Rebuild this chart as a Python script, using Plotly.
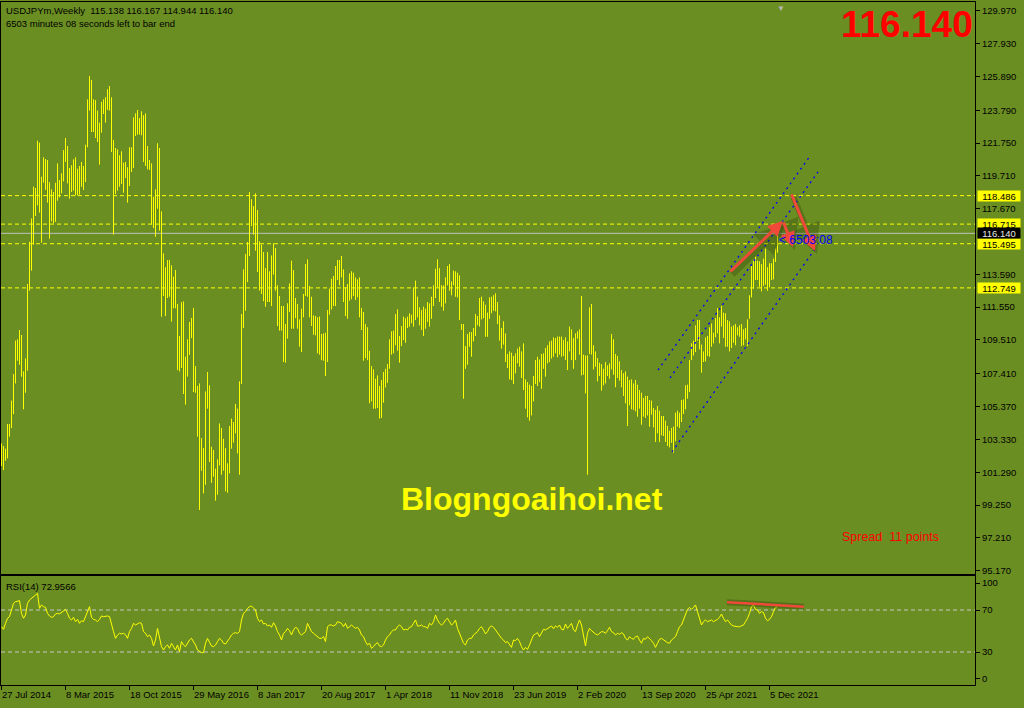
import plotly.graph_objects as go

# ---------------- data ----------------
BAR_HIGH = [
    103.08, 102.92, 102.75, 104.28, 104.28, 105.74, 107.39, 109.47, 109.55, 110.13,
    109.82, 107.56, 108.37, 112.99, 115.62, 117.07, 119.04, 118.96, 121.90, 121.78,
    119.66, 120.87, 120.76, 120.70, 119.33, 118.88, 118.71, 119.29, 120.49, 119.46,
    119.87, 121.32, 122.07, 121.57, 120.20, 120.37, 120.74, 120.87, 120.16, 120.33,
    120.58, 120.33, 121.65, 124.47, 125.92, 125.68, 124.47, 124.43, 123.77, 123.02,
    124.31, 124.47, 124.60, 125.10, 125.30, 124.60, 121.95, 121.45, 121.36, 120.99,
    121.24, 120.53, 120.58, 120.25, 121.49,
    121.49, 123.35, 123.60, 123.81, 123.31, 123.73, 123.48, 123.60, 121.57, 120.70,
    120.49, 118.42, 118.88, 121.74, 121.45, 117.51, 114.90, 114.03, 114.48, 114.48,
    114.15, 113.45, 113.86, 111.75, 109.76, 111.87, 111.91, 108.47, 109.55, 110.63,
    110.88, 111.50, 107.89, 106.65, 106.81, 103.41, 102.79, 106.31, 107.52, 106.69,
    102.87, 102.67, 101.51, 102.09, 104.32, 104.03, 103.37, 102.79, 101.84, 104.16,
    104.62, 104.41, 105.53, 105.24, 106.94, 111.12, 113.90, 114.86, 115.60, 118.71,
    118.26, 117.84, 118.63, 117.59, 115.64,
    115.44, 114.98, 113.98, 114.98, 113.78, 114.77, 115.52, 115.23, 112.91, 112.24,
    111.62, 111.62, 110.50, 111.79, 113.03, 114.44, 113.86, 112.12, 111.75, 110.79,
    111.46, 112.37, 114.23, 114.52, 112.87, 112.20, 111.04, 111.00, 110.92, 110.96,
    109.88, 109.92, 109.96, 111.37, 112.70, 113.32, 113.49, 114.11, 114.48, 114.48,
    114.73, 113.90, 112.78, 112.99, 113.65, 113.78, 113.69, 113.40, 113.28, 113.40,
    111.50, 111.25, 110.50, 110.30, 108.84, 107.89, 107.68, 107.10, 107.31, 106.65,
    107.02, 107.52, 107.72, 108.01, 109.55, 110.05, 110.09, 111.12, 111.41, 109.76,
    110.38, 110.96, 110.87, 110.96, 111.17, 111.08, 112.78, 113.20, 112.20, 111.54,
    111.37, 111.58, 111.46, 111.87, 111.79, 112.20, 112.91, 113.94, 114.52, 113.98,
    112.91, 112.91, 113.40, 114.11, 114.23, 113.15, 113.82, 113.78, 113.69, 113.53,
    110.50, 110.50, 109.13, 109.88, 110.00, 110.00, 110.25, 111.12, 111.00, 112.12,
    112.20, 111.91, 111.70, 111.21, 112.16, 112.20, 112.29, 112.41, 111.87, 111.04,
    110.25, 110.67, 109.92, 108.64, 108.80, 108.72, 108.51, 108.68, 108.97, 109.09,
    108.80, 109.30, 107.06, 106.90, 106.73, 106.65, 107.27, 108.26, 108.47, 108.30,
    108.64, 108.68, 109.01, 109.18, 109.42, 109.47, 109.67, 109.63, 109.72, 109.72,
    109.72, 109.51, 109.67, 109.42, 110.34, 110.17, 109.63, 109.92, 110.05, 110.17,
    112.24, 108.60, 108.55, 108.55, 111.54, 111.75, 109.18, 108.80, 108.39, 108.10,
    108.01, 107.72, 108.14, 107.93, 108.06, 109.88, 109.55, 108.64, 108.51, 108.18,
    107.64, 107.44, 107.56, 107.23, 107.02, 107.06, 106.81, 107.02, 106.73, 106.40,
    106.23, 105.90, 106.03, 106.03, 105.78, 105.74, 105.28, 105.16, 105.40, 105.11,
    104.78, 104.78, 104.49, 104.16, 103.87, 104.04, 104.12, 104.99, 105.11, 104.99,
    105.78, 105.82, 106.69, 106.73, 108.26, 109.30, 109.47, 110.42, 110.75, 110.75,
    109.22, 108.80, 109.67, 109.76, 110.30, 110.54, 109.96, 110.87, 111.50, 110.92,
    111.62, 111.21, 111.17, 110.75, 110.67, 110.34, 110.42, 110.50, 110.30, 110.42,
    110.50, 110.17, 110.25, 110.79, 112.29, 114.11, 114.44, 114.69, 114.44, 114.40,
    114.23, 114.57, 115.19, 114.03, 114.28, 114.28, 114.57, 115.19, 116.167,
]

BAR_LOW = [
    101.67, 101.42, 102.00, 102.15, 103.50, 104.03, 104.90, 106.81, 108.22, 107.97,
    107.23, 105.20, 106.23, 107.60, 112.58, 113.82, 115.44, 117.22, 117.88, 117.43,
    115.56, 119.29, 118.84, 118.05, 115.81, 116.89, 116.76, 116.85, 118.17, 118.38,
    118.63, 119.37, 120.58, 119.25, 118.30, 118.71, 118.80, 118.50, 118.50, 118.55,
    119.04, 118.84, 119.33, 121.49, 123.77, 122.44, 122.44, 122.07, 121.82, 120.41,
    122.40, 123.56, 123.02, 123.81, 123.77, 121.20, 116.06, 118.59, 118.80, 119.04,
    119.21, 118.67, 119.58, 118.05, 119.08,
    119.95, 120.20, 122.19, 122.28, 122.28, 122.24, 120.58, 120.33, 120.12, 120.08,
    116.68, 116.47, 115.93, 117.67, 116.31, 110.96, 112.24, 111.00, 112.12, 112.20,
    110.65, 111.48, 111.48, 107.64, 107.56, 107.77, 106.15, 105.49, 107.23, 108.59,
    109.63, 106.27, 106.23, 103.50, 98.94, 101.38, 99.97, 100.51, 105.24, 101.92,
    100.63, 101.01, 99.52, 99.89, 101.71, 101.13, 101.38, 100.10, 100.01, 101.22,
    102.75, 103.12, 103.70, 102.46, 101.13, 106.77, 110.25, 111.33, 113.11, 114.73,
    116.60, 116.06, 115.06, 113.74, 112.58,
    112.37, 111.92, 111.58, 111.87, 111.87, 111.62, 113.57, 112.57, 110.38, 110.09,
    110.09, 108.14, 108.10, 109.59, 111.25, 110.21, 110.21, 110.87, 110.21, 109.09,
    108.76, 110.92, 112.24, 112.20, 110.92, 110.38, 109.84, 109.80, 108.68, 108.60,
    108.26, 108.22, 107.27, 108.14, 111.08, 111.41, 111.62, 111.62, 113.24, 112.91,
    113.40, 111.87, 111.00, 110.83, 111.95, 112.04, 112.24, 111.99, 112.16, 110.92,
    110.13, 108.22, 108.39, 108.26, 105.57, 105.69, 105.24, 105.24, 105.28, 104.62,
    104.66, 105.61, 106.56, 106.85, 107.72, 108.60, 108.68, 109.18, 108.84, 108.10,
    109.13, 109.51, 109.34, 110.25, 110.34, 110.55, 110.34, 110.75, 110.92, 110.42,
    110.13, 109.76, 110.21, 110.63, 110.34, 110.83, 111.62, 112.12, 112.78, 111.87,
    111.58, 111.33, 111.79, 112.91, 112.57, 112.29, 112.91, 112.20, 112.16, 110.75,
    110.13, 105.86, 107.72, 107.97, 109.09, 108.47, 109.42, 109.76, 110.42, 110.34,
    110.79, 110.87, 109.71, 109.71, 110.83, 111.17, 111.33, 111.29, 110.50, 109.47,
    108.97, 109.22, 108.14, 107.77, 107.06, 107.02, 106.77, 107.44, 108.06, 107.85,
    107.15, 106.40, 105.24, 104.70, 104.49, 104.82, 105.69, 106.77, 106.65, 106.90,
    106.48, 107.72, 107.23, 108.06, 108.14, 108.35, 108.47, 108.68, 108.43, 108.60,
    108.47, 108.51, 108.26, 107.64, 108.80, 108.26, 107.72, 108.26, 109.59, 108.60,
    107.31, 107.35, 106.19, 101.13, 108.64, 108.60, 107.68, 107.85, 106.94, 107.27,
    106.36, 106.69, 106.81, 107.27, 107.10, 107.68, 107.35, 106.57, 107.15, 106.98,
    106.57, 106.03, 105.57, 104.16, 105.45, 105.20, 105.16, 105.07, 104.74, 105.24,
    104.24, 104.74, 104.66, 104.82, 104.12, 104.87, 104.08, 103.17, 103.71, 103.17,
    103.58, 103.54, 103.17, 102.92, 102.83, 103.12, 102.50, 103.21, 104.12, 104.04,
    104.41, 104.91, 105.20, 105.86, 106.27, 108.26, 108.55, 108.76, 109.47, 108.93,
    107.48, 108.14, 108.18, 108.51, 108.47, 109.09, 109.30, 109.67, 109.92, 109.30,
    110.34, 109.63, 109.09, 109.09, 108.80, 109.01, 109.34, 109.18, 109.80, 109.71,
    109.13, 109.18, 109.55, 109.13, 110.83, 112.16, 112.70, 113.24, 113.24, 112.82,
    112.53, 112.87, 112.95, 112.57, 112.78, 113.24, 113.28, 114.36, 114.944,
]

RSI_VALUES = [
    54.1, 51.6, 57.3, 62.1, 63.7, 70.0, 76.3, 77.9, 78.6, 78.9,
    66.8, 62.1, 65.2, 76.3, 79.5, 81.1, 83.3, 84.3, 85.9, 71.6,
    74.8, 73.2, 72.5, 66.8, 64.3, 63.0, 63.7, 66.2, 66.8, 66.2,
    67.5, 69.4, 70.6, 66.8, 62.1, 60.5, 63.0, 58.9, 61.1, 57.3,
    59.8, 58.9, 63.7, 68.4, 73.2, 63.0, 61.1, 60.5, 58.9, 61.1,
    64.3, 63.7, 64.3, 64.3, 63.7, 55.7, 49.4, 43.0, 46.2, 47.8,
    47.2, 47.8, 46.5, 43.0, 49.4, 52.5, 57.3, 55.7, 56.7, 57.9,
    57.3, 49.4, 47.8, 44.6, 46.2, 43.0, 35.7, 41.4, 52.5, 43.0,
    35.1, 31.9, 35.1, 36.7, 33.5, 38.3, 34.4, 31.9, 36.7, 30.3,
    39.9, 36.7, 35.1, 38.9, 41.4, 43.0, 39.9, 36.7, 31.9, 30.3,
    29.4, 29.4, 38.3, 43.0, 39.9, 35.7, 35.1, 36.7, 39.9, 43.0,
    41.4, 38.3, 37.6, 39.9, 43.0, 46.2, 47.8, 48.4, 47.8, 49.4,
    60.5, 66.8, 68.4, 71.6, 73.2, 73.8, 71.6, 70.0, 62.1, 58.9,
    60.5, 56.7, 57.3, 54.8, 55.7, 53.5, 57.9, 54.8, 49.4, 46.2,
    41.4, 47.8, 49.4, 52.5, 50.3, 46.2, 51.0, 53.5, 52.5, 47.8,
    46.2, 47.8, 49.4, 57.3, 52.5, 49.4, 47.8, 46.2, 44.6, 43.0,
    43.0, 44.6, 39.9, 54.1, 55.7, 55.7, 54.8, 55.7, 58.9, 57.9,
    57.3, 54.1, 57.3, 52.5, 54.1, 55.7, 54.1, 52.5, 53.5, 51.0,
    46.2, 44.6, 39.9, 36.7, 38.3, 33.5, 35.1, 37.6, 38.9, 35.7,
    35.1, 36.7, 41.4, 44.6, 46.2, 49.4, 51.0, 51.0, 54.1, 55.7,
    54.1, 51.0, 51.6, 51.0, 53.5, 54.1, 57.3, 60.5, 54.8, 54.8,
    55.7, 54.1, 54.1, 52.5, 57.3, 55.7, 58.9, 65.2, 60.5, 57.3,
    55.7, 57.3, 60.5, 62.1, 58.9, 55.7, 57.3, 60.5, 52.5, 47.8,
    43.0, 38.3, 36.7, 41.4, 43.0, 43.0, 46.2, 47.8, 49.4, 52.5,
    54.1, 51.0, 47.2, 49.4, 53.5, 54.8, 53.5, 51.0, 48.4, 44.6,
    43.0, 41.4, 38.9, 39.9, 37.6, 34.4,
    41.4, 40.8, 43.0, 39.9, 35.1, 31.9, 34.4, 32.5, 36.7, 41.4,
    46.2, 47.2, 48.4, 44.6, 47.8, 51.6, 51.0, 52.5, 53.5, 54.8,
    52.2, 54.8, 53.5, 55.7, 51.6, 51.0, 56.7, 52.5, 54.8, 57.3,
    51.0, 49.4, 55.7, 60.5, 55.7, 44.6, 35.7, 47.8, 52.5, 50.3,
    48.4, 47.2, 46.2, 47.8, 49.4, 49.1, 47.8, 50.3, 53.5, 49.4,
    48.4, 46.2, 47.8, 46.8, 48.4, 47.2, 43.0, 41.4, 44.6, 43.0,
    42.1, 44.6, 45.2, 41.4, 38.3, 43.0, 42.1, 44.6, 43.0, 40.8,
    38.3, 34.4, 38.3, 42.1, 43.0, 41.4, 39.9, 38.9, 38.3, 41.4,
    43.0, 44.6, 49.4, 54.1, 55.7, 60.5, 65.2, 70.6, 72.5, 70.6,
    72.5, 74.8, 68.4, 62.1, 55.7, 58.9, 60.5, 58.9, 59.8, 60.5,
    58.9, 59.8, 61.1, 63.0, 66.2, 62.1, 58.9, 60.5, 57.9, 55.7,
    54.8, 54.1, 54.1, 54.1, 54.8, 55.7, 58.9, 62.1, 66.8, 73.2,
    74.8, 70.6, 70.0, 66.8, 68.4, 67.5, 62.1, 59.8, 61.1, 63.7,
    68.4, 72.5, 72.96,
]

DATE_TICK_BARS = [0, 32, 64, 96, 128, 160, 192, 224, 256, 288, 320, 352, 384]
DATE_TICK_TEXT = ["27 Jul 2014", "8 Mar 2015", "18 Oct 2015", "29 May 2016",
                  "8 Jan 2017", "20 Aug 2017", "1 Apr 2018", "11 Nov 2018",
                  "23 Jun 2019", "2 Feb 2020", "13 Sep 2020", "25 Apr 2021",
                  "5 Dec 2021"]
PRICE_TICKS = [129.970, 127.930, 125.890, 123.790, 121.750, 119.710, 117.670,
               113.590, 111.550, 109.510, 107.410, 105.370, 103.330, 101.290,
               99.250, 97.210, 95.170]
LEVELS = [118.486, 116.715, 115.495, 112.749]
BID = 116.140
RSI_LEVELS = [70, 30]
RSI_TICK_POS = [95.7, 70, 30, 4.3]
RSI_TICK_TEXT = ["100", "70", "30", "0"]

# trend lines drawn on the chart: (bar, price, bar, price)
CHANNELS = [(335.25, 102.55, 407.75, 115.35),
            (334.25, 107.15, 408.25, 119.955),
            (328.25, 107.64, 404.25, 120.95)]
# arrows: (tail bar, tail price, head bar, head price)
ARROWS = [(363.75, 113.675, 390.75, 116.91),
          (390.75, 116.91, 395.75, 115.29),
          (394.75, 118.65, 406.75, 115.04)]
RSI_TREND = (362.75, 77.4, 401.1, 73.2)

HEADER_1 = "USDJPYm,Weekly\u00a0\u00a0115.138 116.167 114.944 116.140"
HEADER_2 = "6503 minutes 08 seconds left to bar end"

# ---------------- figure ----------------
BG = "#6B8E23"
YEL = "#FFFF00"
FONT = "Liberation Sans, Arial, sans-serif"
RED = "#F0493A"

fig = go.Figure()

bx, by = [], []
for i, (h, l) in enumerate(zip(BAR_HIGH, BAR_LOW)):
    bx += [i, i, None]
    by += [l, h, None]
fig.add_trace(go.Scatter(x=bx, y=by, mode="lines", line=dict(color=YEL, width=1),
                         xaxis="x", yaxis="y", hoverinfo="skip", showlegend=False))

fig.add_trace(go.Scatter(x=list(range(len(RSI_VALUES))), y=RSI_VALUES, mode="lines",
                         line=dict(color=YEL, width=1), xaxis="x2", yaxis="y2",
                         hoverinfo="skip", showlegend=False))

shapes = []
for lv in LEVELS:
    shapes.append(dict(type="line", xref="x domain", yref="y", x0=0, x1=1, y0=lv, y1=lv,
                       line=dict(color=YEL, width=1, dash="4px,3px"), layer="below"))
shapes.append(dict(type="line", xref="x domain", yref="y", x0=0, x1=1, y0=BID, y1=BID,
                   line=dict(color="#C0C0C0", width=1), layer="below"))
for lv in RSI_LEVELS:
    shapes.append(dict(type="line", xref="x2 domain", yref="y2", x0=0, x1=1, y0=lv, y1=lv,
                       line=dict(color="#C8C8C8", width=1, dash="4px,3px"), layer="below"))
for (x0, y0, x1, y1) in CHANNELS:
    shapes.append(dict(type="line", xref="x", yref="y", x0=x0, y0=y0, x1=x1, y1=y1,
                       line=dict(color="#0000FF", width=1.3, dash="2px,4px")))
shapes.append(dict(type="line", xref="x2", yref="y2", x0=RSI_TREND[0], y0=RSI_TREND[1],
                   x1=RSI_TREND[2], y1=RSI_TREND[3],
                   line=dict(color="rgba(40,60,10,0.35)", width=6)))
shapes.append(dict(type="line", xref="x2", yref="y2", x0=RSI_TREND[0], y0=RSI_TREND[1],
                   x1=RSI_TREND[2], y1=RSI_TREND[3], line=dict(color=RED, width=2.5)))

ann = []
for (tx, ty, hx, hy) in ARROWS:
    ann.append(dict(x=hx, y=hy, ax=tx, ay=ty, xref="x", yref="y", axref="x", ayref="y",
                    text="", showarrow=True, arrowhead=2, arrowsize=1, arrowwidth=6,
                    arrowcolor="rgba(40,60,10,0.30)", xshift=2, yshift=-3))
for (tx, ty, hx, hy) in ARROWS:
    ann.append(dict(x=hx, y=hy, ax=tx, ay=ty, xref="x", yref="y", axref="x", ayref="y",
                    text="", showarrow=True, arrowhead=2, arrowsize=1, arrowwidth=3,
                    arrowcolor=RED))

small = dict(family=FONT, size=9.5, color="black")
ann.append(dict(text=HEADER_1, xref="paper", yref="paper", x=0, y=1, xanchor="left",
                yanchor="middle", xshift=3, yshift=-8, showarrow=False, font=small))
ann.append(dict(text=HEADER_2, xref="paper", yref="paper", x=0, y=1, xanchor="left",
                yanchor="middle", xshift=3, yshift=-21, showarrow=False, font=small))
ann.append(dict(text="RSI(14) 72.9566", xref="x2 domain", yref="y2 domain", x=0, y=1,
                xanchor="left", yanchor="middle", xshift=3, yshift=-10, showarrow=False,
                font=small))
ann.append(dict(text="<b>116.140</b>", xref="paper", yref="paper", x=1, y=1,
                xanchor="right", yanchor="middle", xshift=0, yshift=-22, showarrow=False,
                font=dict(family=FONT, size=37, color="#FF0000")))
ann.append(dict(text="<b>Blogngoaihoi.net</b>", xref="paper", yref="paper", x=0.5452,
                y=0.2723, xanchor="center", yanchor="middle", showarrow=False,
                font=dict(family=FONT, size=32, color=YEL)))
ann.append(dict(text="Spread\u00a0\u00a011 points", xref="paper", yref="paper", x=0.965,
                y=0.2167, xanchor="right", yanchor="middle", showarrow=False,
                font=dict(family=FONT, size=12.5, color="#FF0000")))
ann.append(dict(text="<\u00a06503:08", xref="x", yref="y", x=388.5, y=115.72,
                xanchor="left", yanchor="middle", xshift=-2, showarrow=False,
                font=dict(family=FONT, size=12, color="#0000FF")))
ann.append(dict(text="\u25BC", xref="x", yref="paper", x=389.5, y=1, xanchor="center",
                yanchor="top", showarrow=False, font=dict(family=FONT, size=8, color="#B8B8B8")))

for lv in LEVELS:
    ann.append(dict(text=f"{lv:.3f}", xref="paper", yref="y", x=1, y=lv, xanchor="left",
                    yanchor="middle", xshift=2, showarrow=False, bgcolor=YEL, width=40,
                    height=8, borderpad=1, font=small))
ann.append(dict(text=f"{BID:.3f}", xref="paper", yref="y", x=1, y=BID, xanchor="left",
                yanchor="middle", xshift=2, showarrow=False, bgcolor="black", width=40,
                height=8, borderpad=1, font=dict(family=FONT, size=9.5, color="#E8E8E8")))

for b, t in zip(DATE_TICK_BARS, DATE_TICK_TEXT):
    ann.append(dict(text=t, xref="x2", yref="paper", x=b, y=0, xanchor="left",
                    yanchor="top", xshift=-2, yshift=-2, showarrow=False, font=small))

H = 683
fig.update_layout(
    width=1024, height=708,
    margin=dict(l=1, r=49, t=2, b=23, pad=0),
    paper_bgcolor=BG, plot_bgcolor=BG,
    showlegend=False,
    shapes=shapes, annotations=ann,
    xaxis=dict(domain=[0, 1], range=[-0.25, 486.75], anchor="y", showticklabels=False,
               showgrid=False, zeroline=False, showline=True, mirror=True,
               linecolor="black", linewidth=1, ticks=""),
    xaxis2=dict(domain=[0, 1], range=[-0.25, 486.75], anchor="y2", showticklabels=False,
                showgrid=False, zeroline=False, showline=True, mirror=True,
                linecolor="black", linewidth=1, ticks="outside", ticklen=4,
                tickcolor="black", tickvals=DATE_TICK_BARS),
    yaxis=dict(domain=[111 / H, 1], range=[94.96, 130.524], side="right", anchor="x",
               tickvals=PRICE_TICKS, ticktext=[f"{v:.3f}" for v in PRICE_TICKS],
               ticks="outside", ticklen=4, tickcolor="black", tickfont=small,
               showgrid=False, zeroline=False, showline=True, mirror=True,
               linecolor="black", linewidth=1),
    yaxis2=dict(domain=[0, 109 / H], range=[-1.43, 102.38], side="right", anchor="x2",
                tickvals=RSI_TICK_POS, ticktext=RSI_TICK_TEXT, ticks="outside", ticklen=4,
                tickcolor="black", tickfont=small, showgrid=False, zeroline=False,
                showline=True, mirror=True, linecolor="black", linewidth=1),
)

fig.write_html(
    "out.html",
    config={"displayModeBar": False},
    post_script="document.body.style.margin='0';document.body.style.padding='0';"
                "document.body.style.overflow='hidden';"
                "document.documentElement.style.background='" + BG + "';",
)
